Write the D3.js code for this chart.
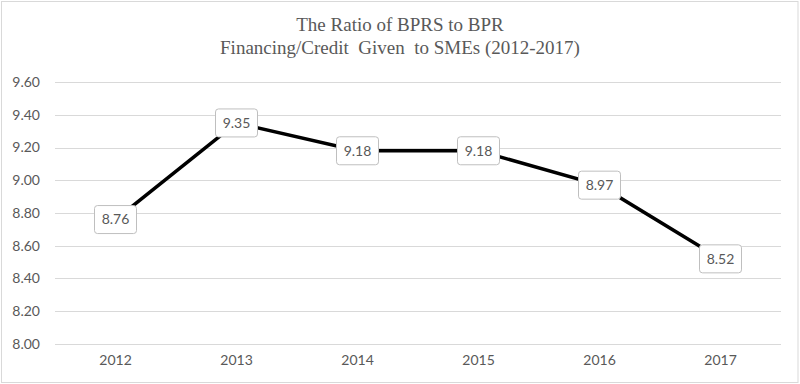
<!DOCTYPE html>
<html>
<head>
<meta charset="utf-8">
<script src="https://cdn.jsdelivr.net/npm/d3@7"></script>
<style>
body { margin:0; background:#fff; }
</style>
</head>
<body>
<div id="chart"></div>
<script>
var width = 800,
height = 384;

var years = ["2012","2013","2014","2015","2016","2017"];
var ratio = [8.76, 9.35, 9.18, 9.18, 8.97, 8.52];
var yTicks = [8.00, 8.20, 8.40, 8.60, 8.80, 9.00, 9.20, 9.40, 9.60];
var titleLines = ["The Ratio of BPRS to BPR", "Financing/Credit  Given  to SMEs (2012-2017)"];

var svg = d3.select("#chart").append("svg")
	.attr("width", width)
	.attr("height", height);

// chart border
svg.append("rect")
	.attr("x", 1.5).attr("y", 1.5)
	.attr("width", 796.5).attr("height", 381)
	.attr("fill", "#fff")
	.attr("stroke", "#d9d9d9");

var x = d3.scaleBand().domain(years).range([55, 781]);
var y = d3.scaleLinear().domain([8, 9.6]).range([344, 82]);

// title
svg.append("text")
	.attr("x", 400).attr("y", 31)
	.attr("text-anchor", "middle")
	.attr("font-family", "Liberation Serif")
	.attr("font-size", 19)
	.attr("fill", "#595959")
	.selectAll("tspan")
	.data(titleLines)
	.enter().append("tspan")
	.attr("x", 400)
	.attr("dy", function(d, i){ return i == 0 ? 0 : 23; })
	.attr("xml:space", "preserve")
	.style("white-space", "pre")
	.text(function(d){ return d; });

// gridlines
svg.append("g")
	.selectAll("line")
	.data(yTicks)
	.enter().append("line")
	.attr("x1", 55).attr("x2", 781)
	.attr("y1", function(d){ return Math.round(y(d)) + 0.5; })
	.attr("y2", function(d){ return Math.round(y(d)) + 0.5; })
	.attr("stroke", "#d9d9d9")
	.attr("stroke-width", 1);

// y axis labels
var yAxis = d3.axisLeft(y).tickValues(yTicks).tickFormat(d3.format(".2f")).tickSize(0).tickPadding(0);
var gy = svg.append("g").attr("transform", "translate(40,0)").call(yAxis);
gy.select(".domain").remove();
gy.selectAll("text")
	.attr("font-family", "Lato")
	.attr("font-size", 14)
	.attr("fill", "#595959");

// x axis labels
var xAxis = d3.axisBottom(x).tickSize(0).tickPadding(0);
var gx = svg.append("g").attr("transform", "translate(0,355)").call(xAxis);
gx.select(".domain").remove();
gx.selectAll("text")
	.attr("font-family", "Lato")
	.attr("font-size", 14)
	.attr("fill", "#595959");

// line
var line = d3.line()
	.x(function(d, i){ return x(years[i]) + x.bandwidth() / 2; })
	.y(function(d){ return y(d); });

svg.append("path")
	.datum(ratio)
	.attr("d", line)
	.attr("fill", "none")
	.attr("stroke", "#000")
	.attr("stroke-width", 3.5);

// data labels
var lab = svg.append("g")
	.selectAll("g")
	.data(ratio)
	.enter().append("g")
	.attr("transform", function(d, i){
		return "translate(" + (x(years[i]) + x.bandwidth() / 2) + "," + y(d) + ")";
	});

lab.append("rect")
	.attr("x", -21).attr("y", -14)
	.attr("width", 42).attr("height", 28)
	.attr("rx", 3)
	.attr("fill", "#fff")
	.attr("stroke", "#bfbfbf");

lab.append("text")
	.attr("text-anchor", "middle")
	.attr("dy", "0.35em")
	.attr("font-family", "Lato")
	.attr("font-size", 14)
	.attr("fill", "#595959")
	.text(function(d){ return d.toFixed(2); });
</script>
</body>
</html>
